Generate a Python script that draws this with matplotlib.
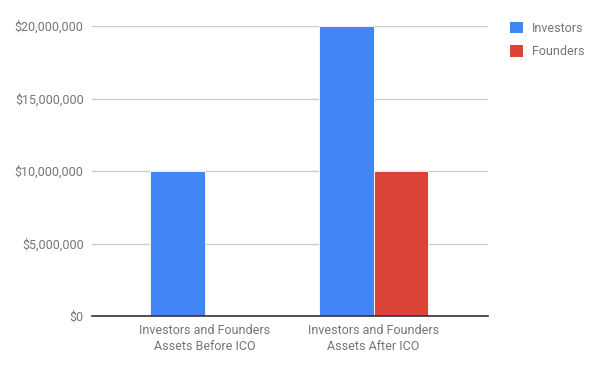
import numpy as np
import matplotlib.pyplot as plt
from matplotlib.patches import Patch
from matplotlib.ticker import FuncFormatter

categories = ['Investors and Founders\nAssets Before ICO', 'Investors and Founders\nAssets After ICO']
investors = [10000000, 20000000]
founders = [0, 10000000]
series_names = ['Investors', 'Founders']
colors = ['#4285F4', '#DB4437']
y_ticks = [0, 5000000, 10000000, 15000000, 20000000]

plt.rcParams['font.family'] = ['Roboto', 'DejaVu Sans']
txt_col = '#757575'

f = plt.figure(figsize=(6, 3.71), dpi=100)
ax = f.add_axes([0.1533, 0.1482, 0.66, 0.7817])

x = np.arange(len(categories))
w = 0.32
ax.bar(x - w/2, investors, width=w, color=colors[0], zorder=3, edgecolor='white', linewidth=0.6)
ax.bar(x + w/2, founders, width=w, color=colors[1], zorder=3, edgecolor='white', linewidth=0.6)

ax.set_xlim(-0.666, 1.677)
ax.set_ylim(0, 20000000)
ax.set_yticks(y_ticks)
ax.yaxis.set_major_formatter(FuncFormatter(lambda v, p: '${:,.0f}'.format(v)))
ax.set_xticks(x)
ax.set_xticklabels(categories, fontsize=9, color=txt_col, linespacing=1.25)
ax.tick_params(axis='y', labelsize=9, labelcolor=txt_col, length=0, pad=6)
ax.tick_params(axis='x', length=0, pad=6)
ax.grid(axis='y', color='#cccccc', lw=1, zorder=0)
ax.set_axisbelow(True)
for s in ['top', 'right', 'left']:
    ax.spines[s].set_visible(False)
ax.spines['bottom'].set_color('#333333')
ax.spines['bottom'].set_linewidth(1.2)
ax.spines['bottom'].set_zorder(4)

handles = [Patch(facecolor=c, edgecolor='none') for c in colors]
f.legend(handles, series_names, loc='upper left', bbox_to_anchor=(0.832, 0.972),
         frameon=False, fontsize=9, handlelength=1.0, handleheight=1.0,
         handletextpad=0.7, labelspacing=0.85, labelcolor=txt_col)

f.savefig('out.png', dpi=100)
